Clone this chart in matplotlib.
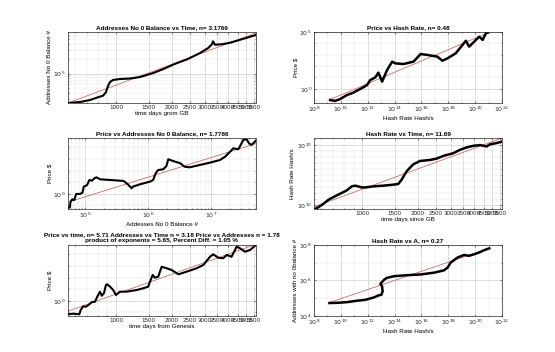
import numpy as np
import matplotlib
matplotlib.use("Agg")
import matplotlib.pyplot as plt
from matplotlib.ticker import FixedLocator, NullFormatter, LogLocator

# values (exponents are log10 of the plotted value)

# addresses with non zero balance vs time
t1_days = [552, 640, 724, 790, 852, 883, 906, 929, 964, 1050, 1188, 1345, 1580,
           1786, 2075, 2405, 2825, 3120, 3280, 3318, 3404, 3707, 4093, 4634, 5650]
a1_exp = [4.40, 4.42, 4.46, 4.51, 4.55, 4.62, 4.75, 4.83, 4.87, 4.89, 4.90, 4.93, 5.01,
          5.09, 5.20, 5.29, 5.42, 5.52, 5.60, 5.66, 5.59, 5.60, 5.63, 5.69, 5.79]
fit1_days = [552, 5650]
fit1_exp = [4.40, 5.83]

# price vs hash rate
h2_exp = [9.20, 9.57, 9.95, 10.45, 10.92, 11.29, 11.67, 11.95, 12.19, 12.57, 12.79, 12.94,
          13.07, 13.44, 13.82, 14.06, 14.66, 15.41, 15.94, 16.44, 17.19, 17.56, 17.94, 18.56,
          19.06, 19.31, 19.55, 19.93, 20.30, 20.56, 20.80, 20.93]
p2_exp = [-0.99, -1.07, -0.90, -0.55, -0.34, -0.11, 0.13, 0.33, 0.77, 1.01, 1.42, 1.01,
          0.63, 1.65, 2.39, 2.24, 2.18, 2.39, 3.06, 2.98, 2.83, 2.47, 2.68, 3.13,
          3.86, 4.23, 3.71, 4.15, 4.59, 4.30, 4.89, 4.94]
fit2_h = [9.20, 20.93]
fit2_p = [-0.94, 4.91]

# price vs addresses
a3_exp = [4.73, 4.76, 4.77, 4.80, 4.83, 4.86, 4.92, 4.96, 4.98, 5.03, 5.07, 5.11, 5.15,
          5.18, 5.24, 5.40, 5.61, 5.66, 5.74, 5.76, 5.87, 6.03, 6.08, 6.12, 6.16, 6.24,
          6.29, 6.32, 6.35, 6.43, 6.51, 6.58, 6.66, 6.82, 6.98, 7.14, 7.22, 7.30, 7.35,
          7.43, 7.51, 7.56, 7.60, 7.64, 7.71]
p3_exp = [-1.24, -1.15, -0.67, -0.47, -0.53, -0.01, -0.01, 0.10, 0.62, 0.74, 1.19, 1.13,
          1.34, 1.42, 1.25, 1.19, 1.11, 0.91, 0.48, 0.62, 0.82, 1.05, 1.19, 1.77, 2.05,
          2.11, 2.39, 2.97, 2.91, 2.76, 2.63, 2.33, 2.28, 2.48, 2.68, 2.91, 3.19, 3.62,
          3.91, 3.83, 4.63, 4.69, 4.34, 4.20, 4.57]
fit3_a = [4.79, 7.71]
fit3_p = [-0.61, 4.32]

# hash rate vs time
t4_days = [555, 582, 619, 659, 701, 762, 828, 881, 916, 955, 995, 1038, 1151, 1300, 1472,
           1567, 1633, 1738, 1884, 2046, 2317, 2518, 2735, 3090, 3357, 3648, 3963, 4305,
           4677, 4864, 5284, 5623]
h4_exp = [9.27, 9.61, 10.17, 10.85, 11.31, 11.87, 12.43, 13.10, 13.22, 13.10, 12.93, 12.93,
          13.10, 13.22, 13.39, 13.51, 14.24, 15.65, 16.79, 17.35, 17.52, 17.75, 18.20,
          18.65, 19.21, 19.62, 19.89, 20.01, 19.79, 20.13, 20.35, 20.57]
fit4_days = [555, 5623]
fit4_exp = [9.71, 21.15]

# price vs time
t5_days = [555, 589, 635, 646, 667, 690, 710, 740, 771, 793, 820, 838, 861, 883, 897, 929,
           966, 1000, 1050, 1140, 1291, 1400, 1489, 1535, 1574, 1618, 1687, 1758, 1871,
           1991, 2163, 2399, 2710, 2944, 3199, 3334, 3540, 3767, 3936, 4178, 4446, 4634,
           4932, 5248, 5649]
p5_exp = [-1.15, -1.10, -1.15, -0.78, -0.47, -0.50, -0.36, -0.12, -0.07, 0.36, 0.79, 0.44,
          0.65, 1.36, 1.42, 1.22, 0.93, 0.50, 0.79, 0.79, 0.93, 1.08, 1.22, 1.79, 2.22,
          1.99, 2.08, 2.93, 2.80, 2.65, 2.28, 2.51, 2.80, 3.08, 3.79, 4.00, 3.71, 3.66,
          3.94, 3.79, 4.65, 4.52, 4.22, 4.37, 4.80]
fit5_days = [555, 5649]
fit5_exp = [-0.87, 4.86]

# addresses vs hash rate
h6_exp = [9.15, 9.70, 10.45, 11.20, 11.82, 12.44, 12.81, 13.02, 13.11, 13.07, 12.94, 13.07,
          13.24, 13.44, 13.94, 14.94, 15.94, 16.93, 17.68, 17.94, 18.18, 18.68, 19.18,
          19.55, 19.93, 20.30, 20.68, 21.05]
a6_exp = [4.73, 4.74, 4.78, 4.86, 4.91, 5.04, 5.16, 5.20, 5.39, 5.67, 5.81, 5.92, 6.06,
          6.15, 6.24, 6.30, 6.34, 6.44, 6.57, 6.72, 7.01, 7.29, 7.44, 7.39, 7.48, 7.58,
          7.71, 7.81]
fit6_h = [9.15, 21.05]
fit6_a = [4.76, 7.81]

day_ticks = [1000, 1500, 2000, 2500, 3000, 3500, 4000, 4500, 5000, 5500]

plt.rcParams['font.family'] = ['Liberation Sans', 'DejaVu Sans']
plt.rcParams['mathtext.fontset'] = 'dejavusans'

FS = 4.5
RED = '#cf6b6b'


def pw(e):
    return 10.0 ** np.asarray(e)


def style(ax, title, xlabel, ylabel, xlim, ylim, yticks, xticks=None, xlabels=None,
          fine_y=False):
    ax.set_xscale('log')
    ax.set_yscale('log')
    ax.set_xlim(xlim)
    ax.set_ylim(ylim)
    ax.set_title(title, fontsize=4.6, fontweight='bold', pad=2)
    ax.set_xlabel(xlabel, fontsize=FS, labelpad=1)
    ax.set_ylabel(ylabel, fontsize=FS, labelpad=1)
    ax.yaxis.set_major_locator(FixedLocator([10.0 ** e for e in yticks]))
    ax.set_yticklabels([r'$10^{%d}$' % e for e in yticks])
    if fine_y:
        ax.yaxis.set_minor_locator(LogLocator(base=10, subs=np.arange(2, 10), numticks=40))
    else:
        lo, hi = int(np.floor(np.log10(ylim[0]))), int(np.ceil(np.log10(ylim[1])))
        ax.yaxis.set_minor_locator(FixedLocator([10.0 ** e for e in range(lo, hi + 1)]))
    ax.yaxis.set_minor_formatter(NullFormatter())
    if xticks is not None:
        ax.xaxis.set_major_locator(FixedLocator(xticks))
        ax.set_xticklabels(xlabels)
        ax.xaxis.set_minor_locator(LogLocator(base=10, subs=np.arange(2, 10), numticks=40))
    else:
        ax.xaxis.set_major_locator(FixedLocator([10.0 ** e for e in range(8, 23, 2)]))
        ax.set_xticklabels([r'$10^{%d}$' % e for e in range(8, 23, 2)])
        ax.xaxis.set_minor_locator(FixedLocator([10.0 ** e for e in range(9, 22, 2)]))
    ax.xaxis.set_minor_formatter(NullFormatter())
    ax.tick_params(which='both', direction='in', labelsize=FS, length=1.5, width=0.4,
                   pad=1.5, top=True, right=True, colors='#262626')
    ax.tick_params(which='minor', length=0.8)
    ax.grid(True, which='major', color='#c4c4c4', lw=0.4)
    ax.grid(True, which='minor', color='#e2e2e2', lw=0.3)
    for s in ax.spines.values():
        s.set_linewidth(0.5)
        s.set_color('#262626')


fig = plt.figure(figsize=(5.55, 3.52), dpi=100)
W, H = 0.3387, 0.2017
ax1 = fig.add_axes([0.1225, 0.7074, W, H])
ax2 = fig.add_axes([0.5658, 0.7074, W, H])
ax3 = fig.add_axes([0.1225, 0.4063, W, H])
ax4 = fig.add_axes([0.5658, 0.4063, W, H])
ax5 = fig.add_axes([0.1225, 0.1023, W, H])
ax6 = fig.add_axes([0.5658, 0.1023, W, H])

day_lim = (552, 5650)
day_labels = [str(d) for d in day_ticks]

ax1.plot(fit1_days, pw(fit1_exp), color=RED, lw=0.6)
ax1.plot(t1_days, pw(a1_exp), color='black', lw=1.5)
style(ax1, 'Addresses No 0 Balance vs Time, n= 3.1766', 'time days grom GB',
      'Addresses No 0 Balance #', day_lim, (10 ** 4.4, 10 ** 5.85), [5],
      day_ticks, day_labels, fine_y=True)

ax2.plot(pw(fit2_h), pw(fit2_p), color=RED, lw=0.6)
ax2.plot(pw(h2_exp), pw(p2_exp), color='black', lw=1.8)
style(ax2, 'Price vs Hash Rate, n= 0.48', 'Hash Rate Hash/s', 'Price $',
      (1e8, 1e22), (10 ** -1.25, 1e5), [0, 5])

ax3.plot(pw(fit3_a), pw(fit3_p), color=RED, lw=0.6)
ax3.plot(pw(a3_exp), pw(p3_exp), color='black', lw=1.5)
style(ax3, 'Price vs Addresses No 0 Balance, n= 1.7786', 'Addesses No 0 Balance #',
      'Price $', (10 ** 4.73, 10 ** 7.71), (10 ** -1.3, 10 ** 4.8), [0],
      [1e5, 1e6, 1e7], [r'$10^{5}$', r'$10^{6}$', r'$10^{7}$'])

ax4.plot(fit4_days, pw(fit4_exp), color=RED, lw=0.6)
ax4.plot(t4_days, pw(h4_exp), color='black', lw=1.8)
style(ax4, 'Hash Rate vs Time, n= 11.69', 'time days since GB', 'Hash Rate Hash/s',
      day_lim, (10 ** 9.32, 10 ** 21.2), [10, 20], day_ticks, day_labels)

ax5.plot(fit5_days, pw(fit5_exp), color=RED, lw=0.6)
ax5.plot(t5_days, pw(p5_exp), color='black', lw=1.5)
style(ax5, 'Price vs time, n= 5.71 Addresses vs Time n = 3.18 Price vs Addresses n = 1.78\n'
      'product of exponents = 5.65, Percent Diff. = 1.05 %', 'time days from Genesis',
      'Price $', day_lim, (10 ** -1.3, 10 ** 4.8), [0], day_ticks, day_labels)

ax6.plot(pw(fit6_h), pw(fit6_a), color=RED, lw=0.6)
ax6.plot(pw(h6_exp), pw(a6_exp), color='black', lw=1.8)
style(ax6, 'Hash Rate vs A, n= 0.27', 'Hash Rate Hash/s', 'Addresses with no 0balance #',
      (1e8, 1e22), (1e4, 1e8), [4, 6, 8])

fig.savefig('out.png', dpi=100)
